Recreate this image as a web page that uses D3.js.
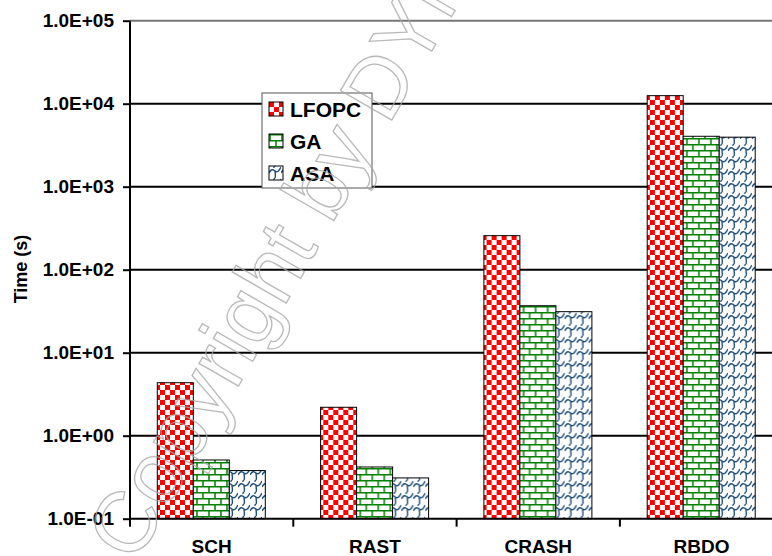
<!DOCTYPE html>
<html>
<head>
<meta charset="utf-8">
<script src="https://cdn.jsdelivr.net/npm/d3@7"></script>
<style>
  body { margin: 0; background: #fff; }
  svg { display: block; font-family: "Liberation Sans", Arial, sans-serif; }
</style>
</head>
<body>
<div id="graph"></div>
<script>
// data
var categories = ["SCH", "RAST", "CRASH", "RBDO"];
var series = ["LFOPC", "GA", "ASA"];
var lfopc = [4.35, 2.2, 257, 12500];
var ga = [0.51, 0.42, 36.8, 4050];
var asa = [0.38, 0.31, 31.2, 3950];
var yTicks = [1e-1, 1e0, 1e1, 1e2, 1e3, 1e4, 1e5];

var values = { LFOPC: lfopc, GA: ga, ASA: asa };

// measurements
var width = 772;
var height = 556;
var plotLeft = 130, plotTop = 20.7, plotBottom = 518.7;
var catWidth = 163.3;

var svg = d3.select("#graph").append("svg")
    .attr("width", width)
    .attr("height", height);

// patterns
var defs = svg.append("defs");

var pRed = defs.append("pattern").attr("id", "pat-LFOPC")
    .attr("patternUnits", "userSpaceOnUse")
    .attr("width", 10).attr("height", 10);
pRed.append("rect").attr("width", 10).attr("height", 10).attr("fill", "#fff");
pRed.append("rect").attr("width", 5).attr("height", 5).attr("fill", "#ff0000");
pRed.append("rect").attr("x", 5).attr("y", 5).attr("width", 5).attr("height", 5).attr("fill", "#ff0000");

var pGreen = defs.append("pattern").attr("id", "pat-GA")
    .attr("patternUnits", "userSpaceOnUse")
    .attr("width", 12).attr("height", 12);
pGreen.append("rect").attr("width", 12).attr("height", 12).attr("fill", "#fff");
pGreen.append("path")
    .attr("d", "M0,0.75H12M0,6.75H12M1,0V6.75M7,6.75V12")
    .attr("stroke", "#008000").attr("stroke-width", 1.5).attr("fill", "none");

var pBlue = defs.append("pattern").attr("id", "pat-ASA")
    .attr("patternUnits", "userSpaceOnUse")
    .attr("width", 12).attr("height", 12);
pBlue.append("rect").attr("width", 12).attr("height", 12).attr("fill", "#fff");
pBlue.append("path")
    .attr("d", "M0,7 C2,3 4,3 6,5 C8,7 10,5 12,1 M6,5 C6,8 7,10 6,12 M6,0 C5,1 4,2 6,0")
    .attr("stroke", "#1f4e80").attr("stroke-width", 1.4).attr("fill", "none");

// scales
var x0 = d3.scaleBand()
    .domain(categories)
    .range([plotLeft, plotLeft + catWidth * categories.length]);

var x1 = d3.scaleBand()
    .domain(series)
    .range([27.3, 27.3 + 108]);

var y = d3.scaleLog()
    .domain([1e-1, 1e5])
    .range([plotBottom, plotTop]);

function sci(d) {
    var e = Math.round(Math.log10(d));
    var s = Math.abs(e) < 10 ? "0" + Math.abs(e) : "" + Math.abs(e);
    return "1.0E" + (e < 0 ? "-" : "+") + s;
}

// gridlines
svg.append("g").selectAll("line")
    .data(yTicks.slice(1))
    .enter().append("line")
    .attr("x1", plotLeft).attr("x2", width)
    .attr("y1", function(d) { return y(d); })
    .attr("y2", function(d) { return y(d); })
    .attr("stroke", function(d) { return d == 1e5 ? "#777" : "#000"; })
    .attr("stroke-width", 2);

// bars
var groups = svg.append("g").selectAll("g")
    .data(categories)
    .enter().append("g")
    .attr("transform", function(d) { return "translate(" + x0(d) + ",0)"; });

groups.selectAll("rect")
    .data(function(c, i) { return series.map(function(s) { return { s: s, v: values[s][i] }; }); })
    .enter().append("rect")
    .attr("x", function(d) { return x1(d.s); })
    .attr("width", x1.bandwidth())
    .attr("y", function(d) { return y(d.v); })
    .attr("height", function(d) { return plotBottom - y(d.v); })
    .attr("fill", function(d) { return "url(#pat-" + d.s + ")"; })
    .attr("stroke", "#000")
    .attr("stroke-width", 1);

// y axis
var yAxis = d3.axisLeft(y)
    .tickValues(yTicks)
    .tickFormat(sci)
    .tickSize(7)
    .tickPadding(9);

var yg = svg.append("g")
    .attr("transform", "translate(" + plotLeft + ",0)")
    .call(yAxis);
yg.select(".domain").attr("stroke", "#000").attr("stroke-width", 2)
    .attr("d", "M0," + plotTop + "V" + (plotBottom + 1));
yg.selectAll(".tick line").attr("stroke", "#000").attr("stroke-width", 2);
yg.selectAll(".tick text")
    .attr("fill", "#000")
    .style("font-size", "19px")
    .style("font-weight", "bold");

// x axis
var xAxis = d3.axisBottom(x0).tickSize(0).tickPadding(21);
var xg = svg.append("g")
    .attr("transform", "translate(0," + plotBottom + ")")
    .call(xAxis);
xg.select(".domain").attr("stroke", "#000").attr("stroke-width", 2)
    .attr("d", "M" + plotLeft + ",0H" + width);
xg.selectAll(".tick text")
    .attr("fill", "#000")
    .style("font-size", "19px")
    .style("font-weight", "bold");

// x boundary ticks
xg.append("g").selectAll("line")
    .data(categories)
    .enter().append("line")
    .attr("x1", function(d) { return x0(d); })
    .attr("x2", function(d) { return x0(d); })
    .attr("y1", 0).attr("y2", 8)
    .attr("stroke", "#000").attr("stroke-width", 2);

// y axis title
svg.append("text")
    .attr("transform", "translate(27,269) rotate(-90)")
    .attr("text-anchor", "middle")
    .style("font-size", "18px")
    .style("font-weight", "bold")
    .text("Time (s)");

// legend
var legend = svg.append("g").attr("transform", "translate(262,93)");
legend.append("rect")
    .attr("width", 110).attr("height", 95)
    .attr("fill", "#fff").attr("stroke", "#555").attr("stroke-width", 1);

var items = legend.selectAll(".item")
    .data(series)
    .enter().append("g")
    .attr("class", "item")
    .attr("transform", function(d, i) { return "translate(7," + (9 + i * 32) + ")"; });

items.append("rect")
    .attr("width", 14).attr("height", 14)
    .attr("fill", function(d) { return "url(#pat-" + d + ")"; })
    .attr("stroke", "#000").attr("stroke-width", 1);

items.append("text")
    .attr("x", 21).attr("y", 15)
    .style("font-size", "21px")
    .style("font-weight", "bold")
    .text(function(d) { return d; });

// watermark
svg.append("text")
    .attr("transform", "translate(135,565) rotate(-60)")
    .attr("fill", "none")
    .attr("stroke", "#a8a8a8")
    .attr("stroke-width", 1.3)
    .attr("opacity", 0.8)
    .style("font-size", "86px")
    .text("Copyright by DYN");
</script>
</body>
</html>
